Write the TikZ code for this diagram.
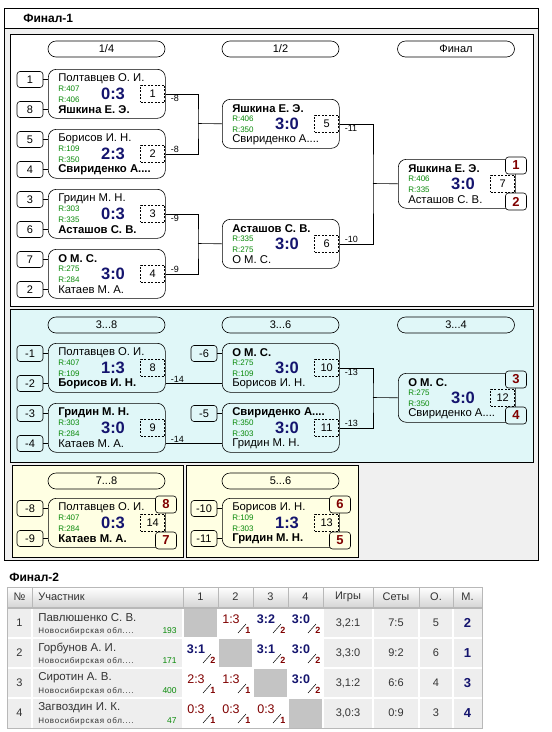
\documentclass[tikz,border=0pt]{standalone}
\usepackage{fontspec}
\setmainfont{Liberation Sans}
\usetikzlibrary{calc}
\newcommand{\fs}[1]{\fontsize{#1}{#1}\selectfont}
\definecolor{rgreen}{HTML}{0A8A0A}
\definecolor{snavy}{HTML}{14146E}
\definecolor{pred}{HTML}{800000}
\definecolor{bggray}{HTML}{F0F0F0}
\definecolor{bgblue}{HTML}{E0F7F8}
\definecolor{bgyel}{HTML}{FFFFE3}
\definecolor{cellgray}{HTML}{EEEEEE}
\definecolor{diaggray}{HTML}{C4C4C4}
\definecolor{hdrgray}{HTML}{D6D6D6}
\definecolor{tline}{HTML}{B8B8B8}
\definecolor{htext}{HTML}{333333}
\tikzset{
  mbox/.style={draw, rounded corners=8pt, minimum width=117pt, minimum height=49pt, inner sep=0pt, anchor=north west},
  nm/.style={font=\fs{11.3}, inner sep=0pt, anchor=west},
  rt/.style={font=\fs{8}, text=rgreen, inner sep=0pt, anchor=west},
  score/.style={font=\fs{16.5}\bfseries, text=snavy, inner sep=0pt},
  numbox/.style={draw, dash pattern=on 2pt off 1.5pt, minimum width=24pt, minimum height=17pt, inner sep=0pt, font=\fs{11}, anchor=north east},
  seedbox/.style={draw, rounded corners=3pt, minimum width=26pt, minimum height=16pt, inner sep=0pt, font=\fs{11}},
  pill/.style={draw, rounded corners=8pt, minimum width=117pt, minimum height=16pt, inner sep=0pt, font=\fs{11}},
  placebox/.style={draw, rounded corners=3pt, minimum width=21pt, minimum height=17pt, inner sep=0pt, font=\fs{13}\bfseries, text=pred},
  lbl/.style={font=\fs{9}, inner sep=1pt},
  frame/.style={draw, line width=0.8pt},
  win/.style={font=\fs{12.5}\bfseries, text=snavy, inner sep=0pt},
  lose/.style={font=\fs{12.5}, text=pred, inner sep=0pt},
  pts/.style={font=\fs{9}\bfseries, text=pred, inner sep=0pt},
  hd/.style={font=\fs{11}, text=htext, inner sep=0pt},
  cell/.style={font=\fs{11}, text=htext, inner sep=0pt}
}
\newcommand{\Match}[9]{%
  \node[mbox] (#1) at (#2,#3) {};
  \node[nm] (#1-a) at (#2+10,#3+10) {#4};
  \node[rt] (#1-r1) at (#2+10,#3+19.5) {#5};
  \node[rt] (#1-r2) at (#2+10,#3+30.5) {#6};
  \node[nm] (#1-b) at (#2+10,#3+41) {#7};
  \node[score] (#1-s) at (#2+65,#3+24.5) {#8};
  \node[numbox] (#1-n) at (#2+117,#3+16) {#9};
}
\newcommand{\SeedT}[4]{\node[seedbox] (#1-st) at (#2,#3+10.5) {#4}; \draw (#1-st.east) -- (#1-st.east -| #1.west);}
\newcommand{\SeedB}[4]{\node[seedbox] (#1-sb) at (#2,#3+40.5) {#4}; \draw (#1-sb.east) -- (#1-sb.east -| #1.west);}
\newcommand{\Places}[6]{%
  \node[placebox, fill=#6] (#1-pt) at (#2,#3+6.5) {#4};
  \node[placebox, fill=#6] (#1-pb) at (#2,#3+42.5) {#5};}
\newcommand{\RC}[6]{%
  \fill[white] (#2,#3) rectangle (#2+35,#3+30);
  \node[#4] (#1) at (#2+13,#3+11) {#5};
  \draw[line width=0.5pt] (#2+20,#3+25) -- (#2+28,#3+16);
  \node[pts] (#1p) at (#2+30,#3+22) {#6};}
\newcommand{\RX}[2]{\fill[diaggray] (#1,#2) rectangle (#1+35,#2+30);}
\newcommand{\Row}[9]{%
  \node[cell] (#1-no) at (19.5,#2+15) {#3};
  \node[cell, anchor=west, font=\fs{11.5}] (#1-nm) at (38,#2+10) {#4};
  \node[cell, anchor=west, font=\fs{8}\addfontfeatures{LetterSpace=9}] (#1-rg) at (38,#2+23) {Новосибирская обл....};
  \node[cell, anchor=east, font=\fs{8.5}, text=rgreen] (#1-rt) at (177,#2+23) {#5};
  \node[cell] (#1-g) at (348,#2+15) {#6};
  \node[cell] (#1-st) at (396,#2+15) {#7};
  \node[cell] (#1-o) at (436,#2+15) {#8};
  \node[cell, font=\fs{13}\bfseries, text=snavy] (#1-m) at (467.5,#2+15) {#9};}
\begin{document}
\begin{tikzpicture}[x=1pt,y=-1pt,line width=0.6pt]
\useasboundingbox (0,0) rectangle (552,732);
% frames
\draw[frame, fill=bggray] (4,8) rectangle (538,560);
\draw[frame, fill=white] (4,8) rectangle (538,28);
\node[font=\fs{12}\bfseries, anchor=west, inner sep=0pt] (title1) at (23,18) {Финал-1};
\draw[frame, fill=white] (10,34) rectangle (533,306);
\draw[frame, fill=bgblue] (10,309) rectangle (533,462);
\draw[frame, fill=bgyel] (12,465) rectangle (183,557);
\draw[frame, fill=bgyel] (186,465) rectangle (358,557);
% headers
\node[pill] (h14) at (106.5,49) {1/4};
\node[pill] (h12) at (280.5,49) {1/2};
\node[pill] (hf) at (456,49) {Финал};
\node[pill] (h38) at (106.5,325) {3...8};
\node[pill] (h36) at (280.5,325) {3...6};
\node[pill] (h34) at (456,325) {3...4};
\node[pill] (h78) at (106.5,481) {7...8};
\node[pill] (h56) at (280.5,481) {5...6};
% top bracket
\Match{q1}{48}{69}{Полтавцев О. И.}{R:407}{R:406}{\bfseries Яшкина Е. Э.}{0:3}{1}
\SeedT{q1}{30}{69}{1}\SeedB{q1}{30}{69}{8}
\Match{q2}{48}{129}{Борисов И. Н.}{R:109}{R:350}{\bfseries Свириденко А....}{2:3}{2}
\SeedT{q2}{30}{129}{5}\SeedB{q2}{30}{129}{4}
\Match{q3}{48}{189}{Гридин М. Н.}{R:303}{R:335}{\bfseries Асташов С. В.}{0:3}{3}
\SeedT{q3}{30}{189}{3}\SeedB{q3}{30}{189}{6}
\Match{q4}{48}{249}{\bfseries О М. С.}{R:275}{R:284}{Катаев М. А.}{3:0}{4}
\SeedT{q4}{30}{249}{7}\SeedB{q4}{30}{249}{2}
\Match{s1}{222}{99}{\bfseries Яшкина Е. Э.}{R:406}{R:350}{Свириденко А....}{3:0}{5}
\Match{s2}{222}{219}{\bfseries Асташов С. В.}{R:335}{R:275}{О М. С.}{3:0}{6}
\Match{f1}{398}{159}{\bfseries Яшкина Е. Э.}{R:406}{R:335}{Асташов С. В.}{3:0}{7}
\Places{f1}{516}{159}{1}{2}{white}
\coordinate (j1) at (198,123.5);
\coordinate (j2) at (198,243.5);
\coordinate (j3) at (373,183.5);
\draw (q1.east) -| (j1) |- (q2.east);
\draw (j1) -- (s1.west);
\draw (q3.east) -| (j2) |- (q4.east);
\draw (j2) -- (s2.west);
\draw (s1.east) -| (j3) |- (s2.east);
\draw (j3) -- (f1.west);
\node[lbl, anchor=north west] (l1) at ([xshift=4pt]q1.east) {-8};
\node[lbl, anchor=south west] (l2) at ([xshift=4pt]q2.east) {-8};
\node[lbl, anchor=north west] (l3) at ([xshift=4pt]q3.east) {-9};
\node[lbl, anchor=south west] (l4) at ([xshift=4pt]q4.east) {-9};
\node[lbl, anchor=north west] (l5) at ([xshift=4pt]s1.east) {-11};
\node[lbl, anchor=south west] (l6) at ([xshift=4pt]s2.east) {-10};
% blue bracket
\Match{m8}{48}{343}{Полтавцев О. И.}{R:407}{R:109}{\bfseries Борисов И. Н.}{1:3}{8}
\SeedT{m8}{30}{343}{-1}\SeedB{m8}{30}{343}{-2}
\Match{m9}{48}{403}{\bfseries Гридин М. Н.}{R:303}{R:284}{Катаев М. А.}{3:0}{9}
\SeedT{m9}{30}{403}{-3}\SeedB{m9}{30}{403}{-4}
\Match{m10}{222}{343}{\bfseries О М. С.}{R:275}{R:109}{Борисов И. Н.}{3:0}{10}
\SeedT{m10}{204}{343}{-6}
\Match{m11}{222}{403}{\bfseries Свириденко А....}{R:350}{R:303}{Гридин М. Н.}{3:0}{11}
\SeedT{m11}{204}{403}{-5}
\Match{m12}{398}{373}{\bfseries О М. С.}{R:275}{R:350}{Свириденко А....}{3:0}{12}
\Places{m12}{516}{373}{3}{4}{bgblue}
\draw (m8.east |- m8-sb.center) -- (m10.west |- m8-sb.center);
\draw (m9.east |- m9-sb.center) -- (m11.west |- m9-sb.center);
\node[lbl, anchor=south west] (l7) at ([xshift=4pt]m8.east |- m8-sb.center) {-14};
\node[lbl, anchor=south west] (l8) at ([xshift=4pt]m9.east |- m9-sb.center) {-14};
\coordinate (j4) at (373,397.5);
\draw (m10.east) -| (j4) |- (m11.east);
\draw (j4) -- (m12.west);
\node[lbl, anchor=north west] (l9) at ([xshift=4pt]m10.east) {-13};
\node[lbl, anchor=south west] (l10) at ([xshift=4pt]m11.east) {-13};
% yellow brackets
\Match{m14}{48}{498}{Полтавцев О. И.}{R:407}{R:284}{\bfseries Катаев М. А.}{0:3}{14}
\SeedT{m14}{30}{498}{-8}\SeedB{m14}{30}{498}{-9}
\Places{m14}{166}{498}{8}{7}{bgyel}
\Match{m13}{222}{498}{Борисов И. Н.}{R:109}{R:303}{\bfseries Гридин М. Н.}{1:3}{13}
\SeedT{m13}{204}{498}{-10}\SeedB{m13}{204}{498}{-11}
\Places{m13}{340}{498}{6}{5}{bgyel}
% table
\node[font=\fs{12}\bfseries, anchor=west, inner sep=0pt] (title2) at (9,577) {Финал-2};
\shade[top color=white, bottom color=hdrgray] (7,587) rectangle (482,607);
\draw[tline] (7,587) rectangle (482,607);
\foreach \xx in {32,183,218,253,288,323,373,419,453} \draw[tline] (\xx,587) -- (\xx,607);
\node[hd] (hn) at (19.5,597) {№};
\node[hd, anchor=west] (hp) at (38,597) {Участник};
\node[hd] (hc1) at (200.5,597) {1};
\node[hd] (hc2) at (235.5,597) {2};
\node[hd] (hc3) at (270.5,597) {3};
\node[hd] (hc4) at (305.5,597) {4};
\node[hd] (hg) at (348,597) {Игры};
\node[hd] (hs) at (396,597) {Сеты};
\node[hd] (ho) at (436,597) {О.};
\node[hd] (hm) at (467.5,597) {М.};
\fill[cellgray] (7,608) rectangle (482,728);
\RX{183}{608}
\RC{c12}{218}{608}{lose}{1:3}{1}
\RC{c13}{253}{608}{win}{3:2}{2}
\RC{c14}{288}{608}{win}{3:0}{2}
\RC{c21}{183}{638}{win}{3:1}{2}
\RX{218}{638}
\RC{c23}{253}{638}{win}{3:1}{2}
\RC{c24}{288}{638}{win}{3:0}{2}
\RC{c31}{183}{668}{lose}{2:3}{1}
\RC{c32}{218}{668}{lose}{1:3}{1}
\RX{253}{668}
\RC{c34}{288}{668}{win}{3:0}{2}
\RC{c41}{183}{698}{lose}{0:3}{1}
\RC{c42}{218}{698}{lose}{0:3}{1}
\RC{c43}{253}{698}{lose}{0:3}{1}
\RX{288}{698}
\foreach \yy in {638,668,698} \draw[white, line width=1.5pt] (7,\yy) -- (482,\yy);
\foreach \xx in {32,183,218,253,288,323,373,419,453} \draw[white, line width=1.5pt] (\xx,608) -- (\xx,728);
\draw[tline] (7,608) rectangle (482,728);
\Row{r1}{608}{1}{Павлюшенко С. В.}{193}{3,2:1}{7:5}{5}{2}
\Row{r2}{638}{2}{Горбунов А. И.}{171}{3,3:0}{9:2}{6}{1}
\Row{r3}{668}{3}{Сиротин А. В.}{400}{3,1:2}{6:6}{4}{3}
\Row{r4}{698}{4}{Загвоздин И. К.}{47}{3,0:3}{0:9}{3}{4}
\end{tikzpicture}
\end{document}
